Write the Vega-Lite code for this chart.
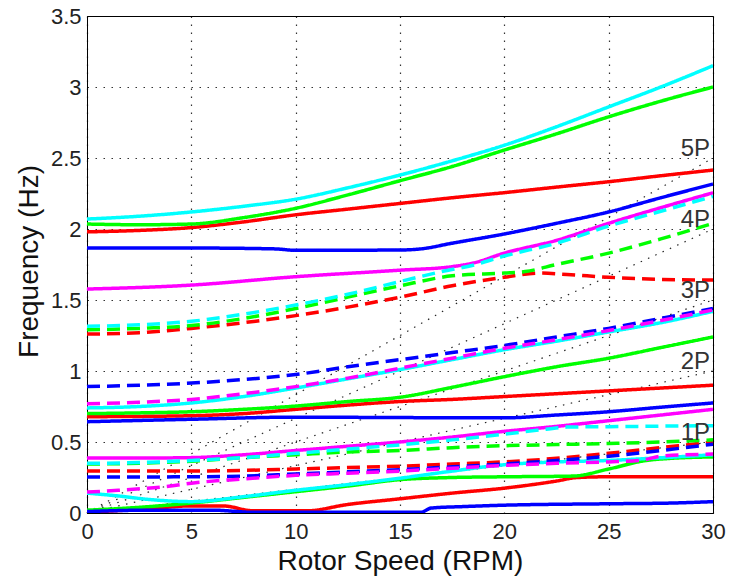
{
  "$schema": "https://vega.github.io/schema/vega-lite/v6.json",
  "autosize": {"type": "none"},
  "padding": {"left": 87, "top": 16, "right": 16, "bottom": 70},
  "width": 626,
  "height": 497,
  "background": "#ffffff",
  "config": {
    "view": {"stroke": "#000000", "strokeWidth": 1},
    "font": "Liberation Sans",
    "axis": {
      "grid": true,
      "gridDash": [1.5, 6.5],
      "gridColor": "#000000",
      "gridOpacity": 0.8,
      "gridWidth": 1.2,
      "ticks": false,
      "domainColor": "#000000",
      "labelFontSize": 22,
      "labelColor": "#222222",
      "labelFlush": false,
      "labelOverlap": false,
      "titleFontSize": 28,
      "titleFontWeight": "normal",
      "titleColor": "#111111"
    }
  },
  "datasets": {
    "curves": [
      {"id":"S3","c":"r","s":"solid","x":0,"y":1.98},{"id":"S3","c":"r","s":"solid","x":2.5,"y":1.99},{"id":"S3","c":"r","s":"solid","x":5,"y":2.01},{"id":"S3","c":"r","s":"solid","x":7.5,"y":2.05},{"id":"S3","c":"r","s":"solid","x":10,"y":2.1},{"id":"S3","c":"r","s":"solid","x":12.5,"y":2.14},{"id":"S3","c":"r","s":"solid","x":15,"y":2.18},{"id":"S3","c":"r","s":"solid","x":17.5,"y":2.22},{"id":"S3","c":"r","s":"solid","x":20,"y":2.256},{"id":"S3","c":"r","s":"solid","x":22.5,"y":2.295},{"id":"S3","c":"r","s":"solid","x":25,"y":2.333},{"id":"S3","c":"r","s":"solid","x":27.5,"y":2.375},{"id":"S3","c":"r","s":"solid","x":30,"y":2.415},
      {"id":"S8","c":"r","s":"solid","x":0,"y":0.678},{"id":"S8","c":"r","s":"solid","x":5,"y":0.685},{"id":"S8","c":"r","s":"solid","x":7.5,"y":0.7},{"id":"S8","c":"r","s":"solid","x":10,"y":0.73},{"id":"S8","c":"r","s":"solid","x":12.5,"y":0.76},{"id":"S8","c":"r","s":"solid","x":15,"y":0.785},{"id":"S8","c":"r","s":"solid","x":17.5,"y":0.8},{"id":"S8","c":"r","s":"solid","x":20,"y":0.82},{"id":"S8","c":"r","s":"solid","x":25,"y":0.86},{"id":"S8","c":"r","s":"solid","x":30,"y":0.9},
      {"id":"S13","c":"r","s":"solid","x":0,"y":0.005},{"id":"S13","c":"r","s":"solid","x":3,"y":0.03},{"id":"S13","c":"r","s":"solid","x":5,"y":0.05},{"id":"S13","c":"r","s":"solid","x":6.5,"y":0.05},{"id":"S13","c":"r","s":"solid","x":8,"y":0.015},{"id":"S13","c":"r","s":"solid","x":10.5,"y":0.015},{"id":"S13","c":"r","s":"solid","x":12.5,"y":0.06},{"id":"S13","c":"r","s":"solid","x":15,"y":0.1},{"id":"S13","c":"r","s":"solid","x":17.5,"y":0.14},{"id":"S13","c":"r","s":"solid","x":20,"y":0.175},{"id":"S13","c":"r","s":"solid","x":22.5,"y":0.225},{"id":"S13","c":"r","s":"solid","x":23.5,"y":0.25},{"id":"S13","c":"r","s":"solid","x":25,"y":0.255},{"id":"S13","c":"r","s":"solid","x":30,"y":0.255},
      {"id":"S2","c":"g","s":"solid","x":0,"y":2.035},{"id":"S2","c":"g","s":"solid","x":2.5,"y":2.03},{"id":"S2","c":"g","s":"solid","x":5,"y":2.035},{"id":"S2","c":"g","s":"solid","x":7.5,"y":2.08},{"id":"S2","c":"g","s":"solid","x":10,"y":2.146},{"id":"S2","c":"g","s":"solid","x":12.5,"y":2.24},{"id":"S2","c":"g","s":"solid","x":15,"y":2.34},{"id":"S2","c":"g","s":"solid","x":17.5,"y":2.44},{"id":"S2","c":"g","s":"solid","x":20,"y":2.556},{"id":"S2","c":"g","s":"solid","x":22.5,"y":2.67},{"id":"S2","c":"g","s":"solid","x":25,"y":2.79},{"id":"S2","c":"g","s":"solid","x":27.5,"y":2.9},{"id":"S2","c":"g","s":"solid","x":30,"y":3.0},
      {"id":"S7","c":"g","s":"solid","x":0,"y":0.7},{"id":"S7","c":"g","s":"solid","x":2.5,"y":0.705},{"id":"S7","c":"g","s":"solid","x":5,"y":0.713},{"id":"S7","c":"g","s":"solid","x":7.5,"y":0.73},{"id":"S7","c":"g","s":"solid","x":10,"y":0.753},{"id":"S7","c":"g","s":"solid","x":12.5,"y":0.785},{"id":"S7","c":"g","s":"solid","x":15,"y":0.815},{"id":"S7","c":"g","s":"solid","x":17.5,"y":0.885},{"id":"S7","c":"g","s":"solid","x":20,"y":0.96},{"id":"S7","c":"g","s":"solid","x":22.5,"y":1.03},{"id":"S7","c":"g","s":"solid","x":25,"y":1.09},{"id":"S7","c":"g","s":"solid","x":27.5,"y":1.165},{"id":"S7","c":"g","s":"solid","x":30,"y":1.24},
      {"id":"S12","c":"g","s":"solid","x":0,"y":0.02},{"id":"S12","c":"g","s":"solid","x":2.5,"y":0.04},{"id":"S12","c":"g","s":"solid","x":5,"y":0.07},{"id":"S12","c":"g","s":"solid","x":7.5,"y":0.11},{"id":"S12","c":"g","s":"solid","x":10,"y":0.15},{"id":"S12","c":"g","s":"solid","x":12.5,"y":0.19},{"id":"S12","c":"g","s":"solid","x":15,"y":0.235},{"id":"S12","c":"g","s":"solid","x":17.5,"y":0.25},{"id":"S12","c":"g","s":"solid","x":20,"y":0.255},{"id":"S12","c":"g","s":"solid","x":23.3,"y":0.26},{"id":"S12","c":"g","s":"solid","x":25,"y":0.31},{"id":"S12","c":"g","s":"solid","x":26.8,"y":0.37},{"id":"S12","c":"g","s":"solid","x":28,"y":0.385},{"id":"S12","c":"g","s":"solid","x":30,"y":0.395},
      {"id":"S4","c":"b","s":"solid","x":0,"y":1.866},{"id":"S4","c":"b","s":"solid","x":5,"y":1.866},{"id":"S4","c":"b","s":"solid","x":9,"y":1.86},{"id":"S4","c":"b","s":"solid","x":10,"y":1.85},{"id":"S4","c":"b","s":"solid","x":15,"y":1.852},{"id":"S4","c":"b","s":"solid","x":16,"y":1.86},{"id":"S4","c":"b","s":"solid","x":17.5,"y":1.9},{"id":"S4","c":"b","s":"solid","x":20,"y":1.965},{"id":"S4","c":"b","s":"solid","x":22.5,"y":2.04},{"id":"S4","c":"b","s":"solid","x":25,"y":2.12},{"id":"S4","c":"b","s":"solid","x":27.5,"y":2.22},{"id":"S4","c":"b","s":"solid","x":30,"y":2.317},
      {"id":"S9","c":"b","s":"solid","x":0,"y":0.643},{"id":"S9","c":"b","s":"solid","x":5,"y":0.66},{"id":"S9","c":"b","s":"solid","x":10,"y":0.675},{"id":"S9","c":"b","s":"solid","x":15,"y":0.672},{"id":"S9","c":"b","s":"solid","x":20,"y":0.67},{"id":"S9","c":"b","s":"solid","x":22.5,"y":0.69},{"id":"S9","c":"b","s":"solid","x":25,"y":0.713},{"id":"S9","c":"b","s":"solid","x":27.5,"y":0.745},{"id":"S9","c":"b","s":"solid","x":30,"y":0.775},
      {"id":"S14","c":"b","s":"solid","x":0,"y":0.01},{"id":"S14","c":"b","s":"solid","x":3,"y":0.02},{"id":"S14","c":"b","s":"solid","x":6,"y":0.02},{"id":"S14","c":"b","s":"solid","x":8,"y":0.005},{"id":"S14","c":"b","s":"solid","x":16,"y":0.005},{"id":"S14","c":"b","s":"solid","x":16.5,"y":0.035},{"id":"S14","c":"b","s":"solid","x":18,"y":0.045},{"id":"S14","c":"b","s":"solid","x":20,"y":0.055},{"id":"S14","c":"b","s":"solid","x":25,"y":0.065},{"id":"S14","c":"b","s":"solid","x":28,"y":0.07},{"id":"S14","c":"b","s":"solid","x":30,"y":0.08},
      {"id":"S1","c":"c","s":"solid","x":0,"y":2.07},{"id":"S1","c":"c","s":"solid","x":2.5,"y":2.09},{"id":"S1","c":"c","s":"solid","x":5,"y":2.12},{"id":"S1","c":"c","s":"solid","x":7.5,"y":2.16},{"id":"S1","c":"c","s":"solid","x":10,"y":2.21},{"id":"S1","c":"c","s":"solid","x":12.5,"y":2.29},{"id":"S1","c":"c","s":"solid","x":15,"y":2.38},{"id":"S1","c":"c","s":"solid","x":17.5,"y":2.48},{"id":"S1","c":"c","s":"solid","x":20,"y":2.59},{"id":"S1","c":"c","s":"solid","x":22.5,"y":2.72},{"id":"S1","c":"c","s":"solid","x":25,"y":2.86},{"id":"S1","c":"c","s":"solid","x":27.5,"y":3.0},{"id":"S1","c":"c","s":"solid","x":30,"y":3.15},
      {"id":"S6","c":"c","s":"solid","x":0,"y":0.74},{"id":"S6","c":"c","s":"solid","x":2.5,"y":0.75},{"id":"S6","c":"c","s":"solid","x":5,"y":0.775},{"id":"S6","c":"c","s":"solid","x":7.5,"y":0.82},{"id":"S6","c":"c","s":"solid","x":10,"y":0.88},{"id":"S6","c":"c","s":"solid","x":12.5,"y":0.945},{"id":"S6","c":"c","s":"solid","x":15,"y":1.01},{"id":"S6","c":"c","s":"solid","x":17.5,"y":1.08},{"id":"S6","c":"c","s":"solid","x":20,"y":1.15},{"id":"S6","c":"c","s":"solid","x":22.5,"y":1.21},{"id":"S6","c":"c","s":"solid","x":25,"y":1.275},{"id":"S6","c":"c","s":"solid","x":27.5,"y":1.34},{"id":"S6","c":"c","s":"solid","x":30,"y":1.42},
      {"id":"S11","c":"c","s":"solid","x":0,"y":0.14},{"id":"S11","c":"c","s":"solid","x":1.5,"y":0.12},{"id":"S11","c":"c","s":"solid","x":3,"y":0.095},{"id":"S11","c":"c","s":"solid","x":5,"y":0.08},{"id":"S11","c":"c","s":"solid","x":7.5,"y":0.115},{"id":"S11","c":"c","s":"solid","x":10,"y":0.16},{"id":"S11","c":"c","s":"solid","x":12.5,"y":0.2},{"id":"S11","c":"c","s":"solid","x":15,"y":0.245},{"id":"S11","c":"c","s":"solid","x":17.5,"y":0.295},{"id":"S11","c":"c","s":"solid","x":20,"y":0.34},{"id":"S11","c":"c","s":"solid","x":22.5,"y":0.36},{"id":"S11","c":"c","s":"solid","x":25,"y":0.37},{"id":"S11","c":"c","s":"solid","x":27,"y":0.385},{"id":"S11","c":"c","s":"solid","x":30,"y":0.41},
      {"id":"S5","c":"m","s":"solid","x":0,"y":1.577},{"id":"S5","c":"m","s":"solid","x":5,"y":1.605},{"id":"S5","c":"m","s":"solid","x":10,"y":1.664},{"id":"S5","c":"m","s":"solid","x":15,"y":1.71},{"id":"S5","c":"m","s":"solid","x":17.5,"y":1.735},{"id":"S5","c":"m","s":"solid","x":18.5,"y":1.76},{"id":"S5","c":"m","s":"solid","x":20,"y":1.83},{"id":"S5","c":"m","s":"solid","x":22.5,"y":1.92},{"id":"S5","c":"m","s":"solid","x":25,"y":2.04},{"id":"S5","c":"m","s":"solid","x":27.5,"y":2.15},{"id":"S5","c":"m","s":"solid","x":30,"y":2.255},
      {"id":"S10","c":"m","s":"solid","x":0,"y":0.387},{"id":"S10","c":"m","s":"solid","x":2.5,"y":0.387},{"id":"S10","c":"m","s":"solid","x":5,"y":0.39},{"id":"S10","c":"m","s":"solid","x":7.5,"y":0.41},{"id":"S10","c":"m","s":"solid","x":10,"y":0.44},{"id":"S10","c":"m","s":"solid","x":12.5,"y":0.47},{"id":"S10","c":"m","s":"solid","x":15,"y":0.5},{"id":"S10","c":"m","s":"solid","x":17.5,"y":0.535},{"id":"S10","c":"m","s":"solid","x":20,"y":0.575},{"id":"S10","c":"m","s":"solid","x":22.5,"y":0.61},{"id":"S10","c":"m","s":"solid","x":25,"y":0.65},{"id":"S10","c":"m","s":"solid","x":27.5,"y":0.69},{"id":"S10","c":"m","s":"solid","x":30,"y":0.73},
      {"id":"D3","c":"r","s":"dash","x":0,"y":1.26},{"id":"D3","c":"r","s":"dash","x":2.5,"y":1.27},{"id":"D3","c":"r","s":"dash","x":5,"y":1.3},{"id":"D3","c":"r","s":"dash","x":7.5,"y":1.34},{"id":"D3","c":"r","s":"dash","x":10,"y":1.39},{"id":"D3","c":"r","s":"dash","x":12.5,"y":1.45},{"id":"D3","c":"r","s":"dash","x":15,"y":1.52},{"id":"D3","c":"r","s":"dash","x":17.5,"y":1.6},{"id":"D3","c":"r","s":"dash","x":20,"y":1.66},{"id":"D3","c":"r","s":"dash","x":21.7,"y":1.69},{"id":"D3","c":"r","s":"dash","x":23,"y":1.68},{"id":"D3","c":"r","s":"dash","x":25,"y":1.66},{"id":"D3","c":"r","s":"dash","x":27.5,"y":1.645},{"id":"D3","c":"r","s":"dash","x":30,"y":1.64},
      {"id":"D8","c":"r","s":"dash","x":0,"y":0.296},{"id":"D8","c":"r","s":"dash","x":5,"y":0.296},{"id":"D8","c":"r","s":"dash","x":7.5,"y":0.3},{"id":"D8","c":"r","s":"dash","x":10,"y":0.31},{"id":"D8","c":"r","s":"dash","x":12.5,"y":0.32},{"id":"D8","c":"r","s":"dash","x":15,"y":0.33},{"id":"D8","c":"r","s":"dash","x":17.5,"y":0.345},{"id":"D8","c":"r","s":"dash","x":20,"y":0.36},{"id":"D8","c":"r","s":"dash","x":22.5,"y":0.385},{"id":"D8","c":"r","s":"dash","x":25,"y":0.42},{"id":"D8","c":"r","s":"dash","x":27.5,"y":0.46},{"id":"D8","c":"r","s":"dash","x":30,"y":0.5},
      {"id":"D2","c":"g","s":"dash","x":0,"y":1.29},{"id":"D2","c":"g","s":"dash","x":2.5,"y":1.3},{"id":"D2","c":"g","s":"dash","x":5,"y":1.32},{"id":"D2","c":"g","s":"dash","x":7.5,"y":1.37},{"id":"D2","c":"g","s":"dash","x":10,"y":1.44},{"id":"D2","c":"g","s":"dash","x":12.5,"y":1.52},{"id":"D2","c":"g","s":"dash","x":15,"y":1.6},{"id":"D2","c":"g","s":"dash","x":17.5,"y":1.67},{"id":"D2","c":"g","s":"dash","x":20,"y":1.69},{"id":"D2","c":"g","s":"dash","x":21,"y":1.7},{"id":"D2","c":"g","s":"dash","x":22.5,"y":1.75},{"id":"D2","c":"g","s":"dash","x":25,"y":1.83},{"id":"D2","c":"g","s":"dash","x":27.5,"y":1.93},{"id":"D2","c":"g","s":"dash","x":30,"y":2.04},
      {"id":"D7","c":"g","s":"dash","x":0,"y":0.345},{"id":"D7","c":"g","s":"dash","x":2.5,"y":0.35},{"id":"D7","c":"g","s":"dash","x":5,"y":0.365},{"id":"D7","c":"g","s":"dash","x":7.5,"y":0.39},{"id":"D7","c":"g","s":"dash","x":10,"y":0.41},{"id":"D7","c":"g","s":"dash","x":12.5,"y":0.43},{"id":"D7","c":"g","s":"dash","x":15,"y":0.44},{"id":"D7","c":"g","s":"dash","x":17.5,"y":0.46},{"id":"D7","c":"g","s":"dash","x":20,"y":0.474},{"id":"D7","c":"g","s":"dash","x":22.5,"y":0.482},{"id":"D7","c":"g","s":"dash","x":25,"y":0.49},{"id":"D7","c":"g","s":"dash","x":27.5,"y":0.5},{"id":"D7","c":"g","s":"dash","x":30,"y":0.515},
      {"id":"D4","c":"b","s":"dash","x":0,"y":0.89},{"id":"D4","c":"b","s":"dash","x":2.5,"y":0.9},{"id":"D4","c":"b","s":"dash","x":5,"y":0.915},{"id":"D4","c":"b","s":"dash","x":7.5,"y":0.94},{"id":"D4","c":"b","s":"dash","x":10,"y":0.975},{"id":"D4","c":"b","s":"dash","x":12.5,"y":1.03},{"id":"D4","c":"b","s":"dash","x":15,"y":1.08},{"id":"D4","c":"b","s":"dash","x":17.5,"y":1.13},{"id":"D4","c":"b","s":"dash","x":20,"y":1.18},{"id":"D4","c":"b","s":"dash","x":22.5,"y":1.24},{"id":"D4","c":"b","s":"dash","x":25,"y":1.3},{"id":"D4","c":"b","s":"dash","x":27.5,"y":1.37},{"id":"D4","c":"b","s":"dash","x":30,"y":1.44},
      {"id":"D9","c":"b","s":"dash","x":0,"y":0.253},{"id":"D9","c":"b","s":"dash","x":5,"y":0.255},{"id":"D9","c":"b","s":"dash","x":7.5,"y":0.26},{"id":"D9","c":"b","s":"dash","x":10,"y":0.275},{"id":"D9","c":"b","s":"dash","x":12.5,"y":0.29},{"id":"D9","c":"b","s":"dash","x":15,"y":0.305},{"id":"D9","c":"b","s":"dash","x":17.5,"y":0.325},{"id":"D9","c":"b","s":"dash","x":20,"y":0.345},{"id":"D9","c":"b","s":"dash","x":22.5,"y":0.37},{"id":"D9","c":"b","s":"dash","x":25,"y":0.4},{"id":"D9","c":"b","s":"dash","x":27.5,"y":0.44},{"id":"D9","c":"b","s":"dash","x":30,"y":0.485},
      {"id":"D1","c":"c","s":"dash","x":0,"y":1.315},{"id":"D1","c":"c","s":"dash","x":2.5,"y":1.325},{"id":"D1","c":"c","s":"dash","x":5,"y":1.35},{"id":"D1","c":"c","s":"dash","x":7.5,"y":1.4},{"id":"D1","c":"c","s":"dash","x":10,"y":1.465},{"id":"D1","c":"c","s":"dash","x":12.5,"y":1.54},{"id":"D1","c":"c","s":"dash","x":15,"y":1.63},{"id":"D1","c":"c","s":"dash","x":17,"y":1.7},{"id":"D1","c":"c","s":"dash","x":18.5,"y":1.745},{"id":"D1","c":"c","s":"dash","x":20,"y":1.81},{"id":"D1","c":"c","s":"dash","x":22.5,"y":1.9},{"id":"D1","c":"c","s":"dash","x":25,"y":2.02},{"id":"D1","c":"c","s":"dash","x":27.5,"y":2.125},{"id":"D1","c":"c","s":"dash","x":30,"y":2.23},
      {"id":"D6","c":"c","s":"dash","x":0,"y":0.35},{"id":"D6","c":"c","s":"dash","x":2.5,"y":0.355},{"id":"D6","c":"c","s":"dash","x":5,"y":0.37},{"id":"D6","c":"c","s":"dash","x":7.5,"y":0.39},{"id":"D6","c":"c","s":"dash","x":10,"y":0.42},{"id":"D6","c":"c","s":"dash","x":12.5,"y":0.45},{"id":"D6","c":"c","s":"dash","x":15,"y":0.48},{"id":"D6","c":"c","s":"dash","x":17.5,"y":0.515},{"id":"D6","c":"c","s":"dash","x":20,"y":0.555},{"id":"D6","c":"c","s":"dash","x":22,"y":0.59},{"id":"D6","c":"c","s":"dash","x":23,"y":0.605},{"id":"D6","c":"c","s":"dash","x":25,"y":0.608},{"id":"D6","c":"c","s":"dash","x":30,"y":0.615},
      {"id":"D5","c":"m","s":"dash","x":0,"y":0.77},{"id":"D5","c":"m","s":"dash","x":2.5,"y":0.78},{"id":"D5","c":"m","s":"dash","x":5,"y":0.8},{"id":"D5","c":"m","s":"dash","x":7.5,"y":0.84},{"id":"D5","c":"m","s":"dash","x":10,"y":0.89},{"id":"D5","c":"m","s":"dash","x":12.5,"y":0.95},{"id":"D5","c":"m","s":"dash","x":15,"y":1.02},{"id":"D5","c":"m","s":"dash","x":17.5,"y":1.09},{"id":"D5","c":"m","s":"dash","x":20,"y":1.16},{"id":"D5","c":"m","s":"dash","x":22.5,"y":1.22},{"id":"D5","c":"m","s":"dash","x":25,"y":1.285},{"id":"D5","c":"m","s":"dash","x":27.5,"y":1.355},{"id":"D5","c":"m","s":"dash","x":30,"y":1.43},
      {"id":"D10","c":"m","s":"dash","x":0,"y":0.147},{"id":"D10","c":"m","s":"dash","x":1.5,"y":0.16},{"id":"D10","c":"m","s":"dash","x":4,"y":0.19},{"id":"D10","c":"m","s":"dash","x":5,"y":0.21},{"id":"D10","c":"m","s":"dash","x":7.5,"y":0.24},{"id":"D10","c":"m","s":"dash","x":10,"y":0.265},{"id":"D10","c":"m","s":"dash","x":12.5,"y":0.28},{"id":"D10","c":"m","s":"dash","x":15,"y":0.295},{"id":"D10","c":"m","s":"dash","x":17.5,"y":0.315},{"id":"D10","c":"m","s":"dash","x":20,"y":0.335},{"id":"D10","c":"m","s":"dash","x":22.5,"y":0.35},{"id":"D10","c":"m","s":"dash","x":25,"y":0.36},{"id":"D10","c":"m","s":"dash","x":26.5,"y":0.37},{"id":"D10","c":"m","s":"dash","x":27.5,"y":0.4},{"id":"D10","c":"m","s":"dash","x":30,"y":0.415}
    ],
    "plines": [
      {"n":"1P","x":0,"y":0},{"n":"1P","x":30,"y":0.5},
      {"n":"2P","x":0,"y":0},{"n":"2P","x":30,"y":1.0},
      {"n":"3P","x":0,"y":0},{"n":"3P","x":30,"y":1.5},
      {"n":"4P","x":0,"y":0},{"n":"4P","x":30,"y":2.0},
      {"n":"5P","x":0,"y":0},{"n":"5P","x":30,"y":2.5}
    ],
    "plabels": [
      {"n":"1P","x":30,"y":0.5},{"n":"2P","x":30,"y":1.0},{"n":"3P","x":30,"y":1.5},{"n":"4P","x":30,"y":2.0},{"n":"5P","x":30,"y":2.5}
    ]
  },
  "encoding": {
    "x": {
      "field": "x", "type": "quantitative",
      "scale": {"domain": [0, 30], "nice": false, "zero": false},
      "axis": {
        "title": "Rotor Speed (RPM)",
        "values": [0, 5, 10, 15, 20, 25, 30],
        "labelPadding": 8,
        "titleBaseline": "alphabetic",
        "titleY": 56
      }
    },
    "y": {
      "field": "y", "type": "quantitative",
      "scale": {"domain": [0, 3.5], "nice": false},
      "axis": {
        "title": "Frequency (Hz)",
        "values": [0, 0.5, 1, 1.5, 2, 2.5, 3, 3.5],
        "format": "~g",
        "labelPadding": 6,
        "titleAngle": 270,
        "titleAlign": "center",
        "titleBaseline": "alphabetic",
        "titleX": -50,
        "titleY": 245
      }
    }
  },
  "layer": [
    {
      "data": {"name": "plines"},
      "mark": {"type": "line", "color": "#000000", "strokeWidth": 1.2, "strokeDash": [1.5, 6.5], "opacity": 0.85},
      "encoding": {"detail": {"field": "n"}}
    },
    {
      "data": {"name": "curves"},
      "mark": {"type": "line", "strokeWidth": 3.5, "interpolate": "monotone", "clip": true},
      "encoding": {
        "detail": {"field": "id"},
        "color": {
          "field": "c", "type": "nominal", "legend": null,
          "scale": {"domain": ["r", "g", "b", "c", "m"], "range": ["#ff0000", "#00ff00", "#0000ff", "#00ffff", "#ff00ff"]}
        },
        "strokeDash": {
          "field": "s", "type": "nominal", "legend": null,
          "scale": {"domain": ["solid", "dash"], "range": [[1, 0], [13, 7]]}
        }
      }
    },
    {
      "data": {"name": "plabels"},
      "mark": {"type": "text", "align": "right", "baseline": "alphabetic", "dx": -3, "dy": -2, "fontSize": 24, "color": "#333333"},
      "encoding": {"text": {"field": "n"}}
    }
  ]
}
